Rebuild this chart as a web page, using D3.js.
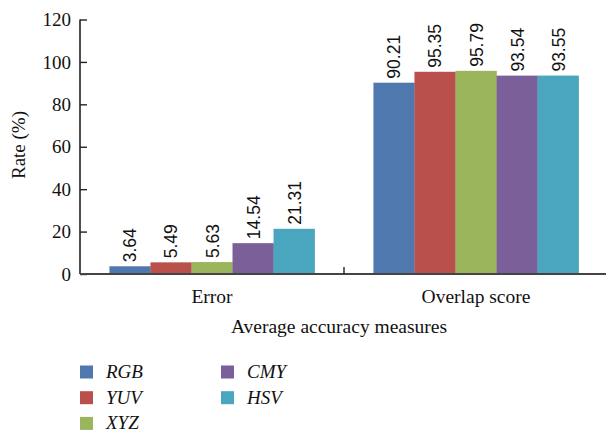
<!DOCTYPE html>
<html>
<head>
<meta charset="utf-8">
<script src="https://cdn.jsdelivr.net/npm/d3@7"></script>
<style>
  body { margin: 0; background: #fff; }
  svg { display: block; }
</style>
</head>
<body>
<div id="chart"></div>
<script>
var categories = ["Error", "Overlap score"];
var seriesNames = ["RGB", "YUV", "XYZ", "CMY", "HSV"];
var seriesColors = ["#4F79AE", "#B9504C", "#9BB55C", "#7B5F98", "#4AA5BE"];
var values = {
    "RGB": [3.64, 90.21],
    "YUV": [5.49, 95.35],
    "XYZ": [5.63, 95.79],
    "CMY": [14.54, 93.54],
    "HSV": [21.31, 93.55]
};
var yTicks = [0, 20, 40, 60, 80, 100, 120];

var width = 606, height = 434;
var margin = {top: 19.5, left: 80, right: -2, bottom: 160};
var plotW = width - margin.left - margin.right,
    plotH = height - margin.top - margin.bottom;

var serif = "'Liberation Serif', 'DejaVu Serif', serif";
var sans = "'Liberation Sans', 'DejaVu Sans', sans-serif";

var svg = d3.select("#chart")
            .append("svg")
            .attr("width", width)
            .attr("height", height);

var x0 = d3.scaleBand()
           .domain(categories)
           .range([margin.left, margin.left + plotW])
           .paddingInner(0)
           .paddingOuter(0);

var groupW = x0.bandwidth() * 0.777;
var x1 = d3.scaleBand()
           .domain(seriesNames)
           .range([0, groupW]);

var y = d3.scaleLinear()
          .domain([0, 120])
          .range([margin.top + plotH, margin.top]);

var color = d3.scaleOrdinal().domain(seriesNames).range(seriesColors);

var cells = [];
categories.forEach(function(c, i) {
    seriesNames.forEach(function(s) { cells.push({c: c, s: s, v: values[s][i]}); });
});

function barX(d) {
    return x0(d.c) + (x0.bandwidth() - groupW) / 2 + x1(d.s);
}

// bars
svg.selectAll("rect.bar")
   .data(cells)
   .enter()
   .append("rect")
       .attr("class", "bar")
       .attr("x", barX)
       .attr("y", function(d) { return y(d.v); })
       .attr("width", x1.bandwidth() + 0.3)
       .attr("height", function(d) { return y(0) - y(d.v); })
       .attr("fill", function(d) { return color(d.s); });

// value labels, read bottom to top
svg.selectAll("text.val")
   .data(cells)
   .enter()
   .append("text")
       .attr("class", "val")
       .attr("transform", function(d) {
           var lx = barX(d) + x1.bandwidth() / 2 + 6.5,
               ly = y(d.v) - 4;
           return "translate(" + lx + "," + ly + ") rotate(-90)";
       })
       .attr("font-family", sans)
       .attr("font-size", 17.5)
       .attr("fill", "#111")
       .text(function(d) { return d.v.toFixed(2); });

// y axis, ticks pointing inwards
var yAxis = d3.axisLeft(y).tickValues(yTicks).tickSize(-7).tickPadding(9);
var ya = svg.append("g")
            .attr("transform", "translate(" + margin.left + ",0)")
            .call(yAxis);
ya.select(".domain").attr("d", "M0," + y(120) + "V" + y(0)).attr("stroke", "#222").attr("stroke-width", 1.6);
ya.selectAll(".tick line").attr("stroke", "#222").attr("stroke-width", 1.4);
ya.selectAll(".tick text")
  .attr("font-family", serif)
  .attr("font-size", 19)
  .attr("fill", "#111");

// x axis
svg.append("line")
   .attr("x1", margin.left).attr("x2", margin.left + plotW)
   .attr("y1", y(0)).attr("y2", y(0))
   .attr("stroke", "#444").attr("stroke-width", 2);
svg.selectAll("line.sep")
   .data(categories.slice(1))
   .enter()
   .append("line")
       .attr("class", "sep")
       .attr("x1", function(c) { return x0(c); })
       .attr("x2", function(c) { return x0(c); })
       .attr("y1", y(0)).attr("y2", y(0) - 7)
       .attr("stroke", "#222").attr("stroke-width", 1.4);
svg.selectAll("text.cat")
   .data(categories)
   .enter()
   .append("text")
       .attr("class", "cat")
       .attr("x", function(c) { return x0(c) + x0.bandwidth() / 2; })
       .attr("y", 302.5)
       .attr("text-anchor", "middle")
       .attr("font-family", serif)
       .attr("font-size", 19.5)
       .attr("fill", "#111")
       .text(function(c) { return c; });

// axis titles
svg.append("text")
   .attr("x", 339)
   .attr("y", 333)
   .attr("text-anchor", "middle")
   .attr("font-family", serif)
   .attr("font-size", 19.5)
   .attr("fill", "#111")
   .text("Average accuracy measures");

svg.append("text")
   .attr("transform", "translate(25,145) rotate(-90)")
   .attr("text-anchor", "middle")
   .attr("font-family", serif)
   .attr("font-size", 19)
   .attr("fill", "#111")
   .text("Rate (%)");

// legend, three rows per column
var legend = svg.selectAll("g.legend")
                .data(seriesNames)
                .enter()
                .append("g")
                    .attr("class", "legend")
                    .attr("transform", function(d, i) {
                        var col = Math.floor(i / 3), row = i % 3;
                        return "translate(" + (80 + col * 141) + "," + (378 + row * 25.7) + ")";
                    });
legend.append("rect")
      .attr("y", -12.5)
      .attr("width", 13).attr("height", 13)
      .attr("fill", function(d) { return color(d); });
legend.append("text")
      .attr("x", 26)
      .attr("font-family", serif)
      .attr("font-style", "italic")
      .attr("font-size", 19)
      .attr("fill", "#111")
      .text(function(d) { return d; });
</script>
</body>
</html>
